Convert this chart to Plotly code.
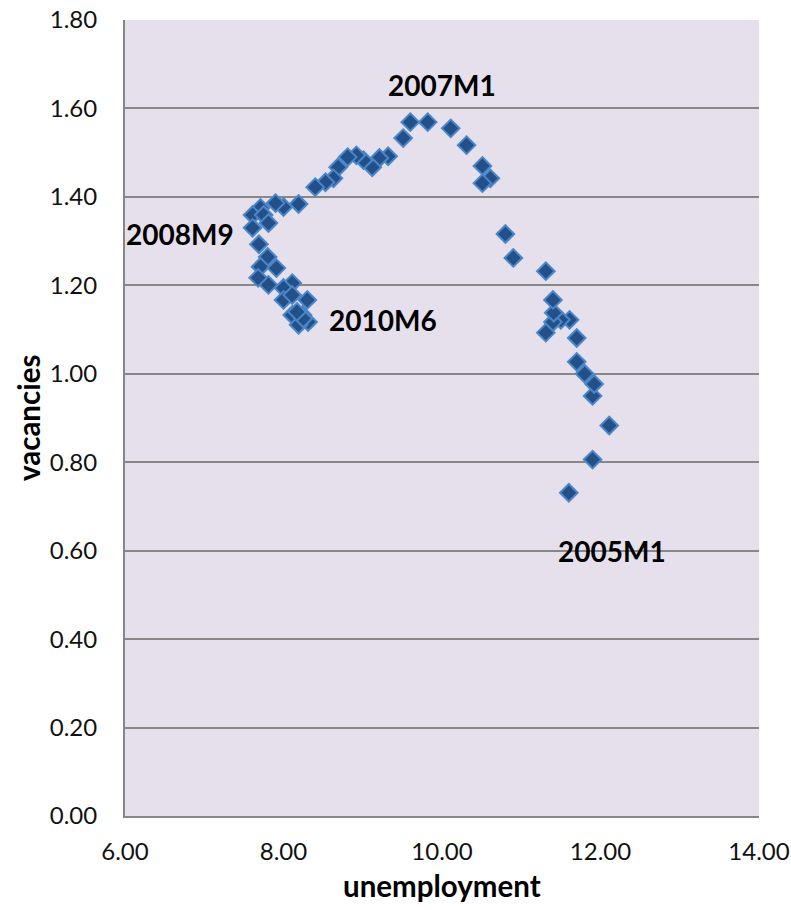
import plotly.graph_objects as go

unemployment = [
    11.60, 11.90, 12.11, 11.90, 11.92, 11.80, 11.70, 11.70, 11.61, 11.50,
    11.40, 11.41, 11.31, 11.40, 11.31, 10.90, 10.80, 10.61, 10.51, 10.51,
    10.31, 10.11, 9.82, 9.60, 9.51, 9.32, 9.21, 9.12, 9.01, 8.92,
    8.81, 8.69, 8.63, 8.53, 8.40, 8.19, 8.00, 7.90, 7.71, 7.61,
    7.75, 7.81, 7.61, 7.69, 7.80, 7.71, 7.91, 7.68, 7.81, 8.11,
    8.00, 8.00, 8.30, 8.11, 8.11, 8.24, 8.31, 8.19, 8.25, 8.17,
]
vacancies = [
    0.731, 0.806, 0.883, 0.950, 0.977, 1.000, 1.027, 1.081, 1.122, 1.122,
    1.117, 1.138, 1.093, 1.167, 1.232, 1.262, 1.316, 1.442, 1.470, 1.431,
    1.517, 1.555, 1.569, 1.569, 1.533, 1.492, 1.488, 1.467, 1.483, 1.494,
    1.490, 1.467, 1.442, 1.433, 1.422, 1.384, 1.377, 1.386, 1.375, 1.359,
    1.359, 1.341, 1.330, 1.293, 1.264, 1.242, 1.239, 1.217, 1.201, 1.205,
    1.194, 1.167, 1.167, 1.178, 1.133, 1.133, 1.117, 1.111, 1.125, 1.140,
]

label_text = ["2007M1", "2008M9", "2010M6", "2005M1"]
label_x = [10.00, 6.70, 9.25, 12.15]
label_y = [1.653, 1.317, 1.122, 0.600]

x_ticks = [6, 8, 10, 12, 14]
y_ticks = [0.0, 0.2, 0.4, 0.6, 0.8, 1.0, 1.2, 1.4, 1.6, 1.8]

x_title = "unemployment"
y_title = "vacancies"

font_family = "Lato, 'Open Sans', sans-serif"

fig = go.Figure()
fig.add_trace(go.Scatter(
    x=unemployment, y=vacancies, mode="markers",
    marker=dict(symbol="diamond", size=13.5, color="#24508A",
                line=dict(color="#4A86C8", width=2)),
    showlegend=False, hoverinfo="skip",
))

for t, xx, yy in zip(label_text, label_x, label_y):
    fig.add_annotation(x=xx, y=yy, text=f"<b>{t}</b>", showarrow=False,
                       font=dict(family=font_family, size=28, color="#000000"),
                       xanchor="center", yanchor="middle")

# axis titles
fig.add_annotation(xref="paper", yref="paper", x=0.5, y=0, yshift=-69,
                   text=f"<b>{x_title}</b>", showarrow=False,
                   font=dict(family=font_family, size=29.5, color="#000000"),
                   xanchor="center", yanchor="middle")
fig.add_annotation(xref="paper", yref="paper", x=0, y=0.5, xshift=-97,
                   text=f"<b>{y_title}</b>", showarrow=False, textangle=-90,
                   font=dict(family=font_family, size=29.5, color="#000000"),
                   xanchor="center", yanchor="middle")

fig.update_layout(
    width=791, height=910,
    margin=dict(l=125, r=32, t=20, b=94),
    paper_bgcolor="#FFFFFF",
    plot_bgcolor="#E5E0EC",
    font=dict(family=font_family, color="#000000", size=24),
    xaxis=dict(
        range=[6, 14], tickvals=x_ticks,
        ticktext=[f"{v:.2f}" for v in x_ticks],
        showgrid=False, zeroline=False, automargin=False,
        showline=True, linecolor="#868686", linewidth=2,
        ticks="", ticklen=0, ticklabelstandoff=13,
        tickfont=dict(size=24, family=font_family, color="#111111"),
    ),
    yaxis=dict(
        range=[0, 1.8], tickvals=y_ticks,
        ticktext=[f"{v:.2f}" for v in y_ticks],
        showgrid=True, gridcolor="#888888", gridwidth=1.5,
        zeroline=False, automargin=False,
        showline=True, linecolor="#868686", linewidth=2,
        ticks="", ticklen=0, ticklabelstandoff=21,
        tickfont=dict(size=24, family=font_family, color="#111111"),
    ),
)

fig.write_html("out.html")
